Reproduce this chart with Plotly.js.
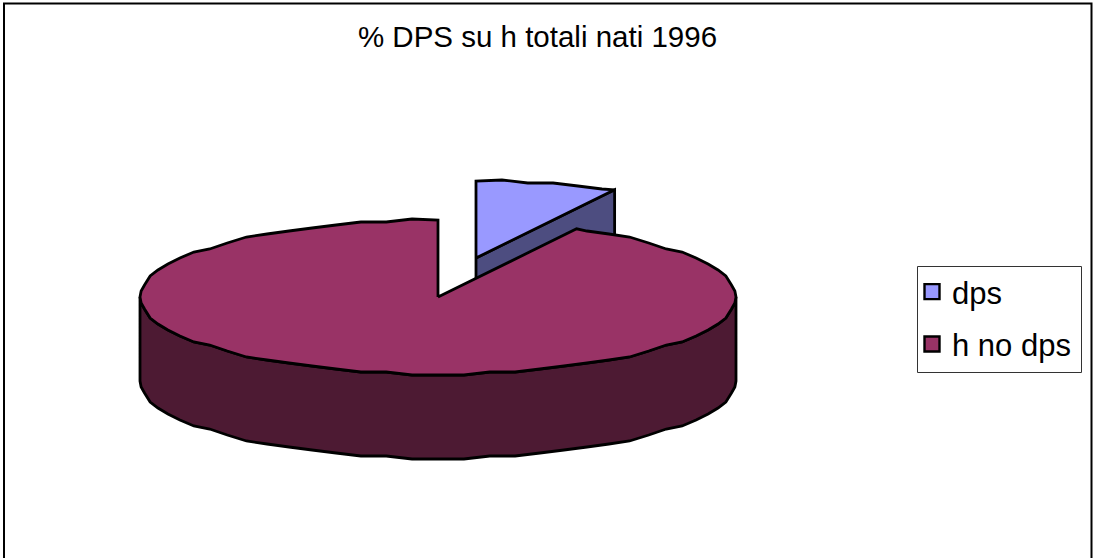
<!DOCTYPE html>
<html>
<head>
<meta charset="utf-8">
<script src="https://cdn.plot.ly/plotly-3.0.1.min.js"></script>
<style>html,body{margin:0;padding:0;background:#fff}#chart{width:1093px;height:558px}</style>
</head>
<body>
<div id="chart"></div>
<script>
const chartTitle = "% DPS su h totali nati 1996";
const categories = ["dps", "h no dps"];
const values = [7.7, 92.3];
const topColors = ["#9999FF", "#993366"];
const sideColors = ["#4D4D80", "#4D1A33"];

const cx = 438, cy = 297, rx = 298, ry = 77, depth = 84;
const explodeX = 38, explodeY = -39;
const stepDeg = 5, gridY = 3;
const total = values.reduce((a, b) => a + b, 0);
const splitDeg = values[0] / total * 360;

function pt(deg, ox, oy, dz) {
  const t = deg * Math.PI / 180;
  return [ox + rx * Math.sin(t), oy - ry * Math.cos(t) + dz];
}
// coarse rim: the points sit on fixed angles and snap vertically, as the original outline does
function arc(from, to, ox, oy, dz) {
  const dir = to > from ? 1 : -1;
  const angles = [from];
  let a = dir > 0 ? (Math.floor(from / stepDeg) + 1) * stepDeg : (Math.ceil(from / stepDeg) - 1) * stepDeg;
  while ((to - a) * dir > 1e-6) { angles.push(a); a += dir * stepDeg; }
  angles.push(to);
  return angles.map((d, i) => {
    const p = pt(d, ox, oy, dz);
    if (i > 0 && i < angles.length - 1) p[1] = oy + dz + Math.round((p[1] - oy - dz) / gridY) * gridY;
    return p;
  });
}
function poly(points, color) {
  const xs = points.map(p => p[0]), ys = points.map(p => p[1]);
  xs.push(xs[0]); ys.push(ys[0]);
  return {
    type: "scatter", mode: "lines", x: xs, y: ys, fill: "toself", fillcolor: color,
    line: {color: "#000", width: 2.8, simplify: false, shape: "linear"},
    hoverinfo: "skip", showlegend: false
  };
}
const sx = cx + explodeX, sy = cy + explodeY;
const endPt = pt(splitDeg, sx, sy, 0);
const traces = [
  poly([[sx, sy], endPt, [endPt[0], endPt[1] + depth], [sx, sy + depth]], sideColors[0]),
  poly([[sx, sy]].concat(arc(0, splitDeg, sx, sy, 0)), topColors[0]),
  poly(arc(90, 270, cx, cy, 0).concat(arc(270, 90, cx, cy, depth)), sideColors[1]),
  poly([[cx, cy]].concat(arc(splitDeg, 360, cx, cy, 0)), topColors[1])
];
categories.forEach((name, i) => {
  traces.push({
    type: "scatter", mode: "markers", name: name, x: [null], y: [null],
    legendgroup: name, hoverinfo: "skip",
    marker: {symbol: "square", size: 15, color: topColors[i], line: {color: "#000", width: 2.4}}
  });
});
const hidden = {visible: false, fixedrange: true};
const fx = v => v / 1093, fy = v => 1 - v / 558;
const layout = {
  width: 1093, height: 558,
  margin: {l: 0, r: 0, t: 0, b: 0},
  paper_bgcolor: "#fff", plot_bgcolor: "#fff",
  font: {family: "Liberation Sans, Arial, sans-serif", color: "#000"},
  title: {text: chartTitle, font: {size: 29.5, color: "#000"}, x: fx(537.5), xanchor: "center",
          y: fy(37), yanchor: "middle"},
  xaxis: Object.assign({range: [0, 1093]}, hidden),
  yaxis: Object.assign({range: [558, 0]}, hidden),
  legend: {x: fx(917), xanchor: "left", y: fy(265), yanchor: "top", indentation: -5,
           bgcolor: "rgba(0,0,0,0)", borderwidth: 0, font: {size: 31, color: "#000"},
           traceorder: "grouped", tracegroupgap: 9},
  shapes: [
    {type: "rect", xref: "paper", yref: "paper", x0: fx(917.5), x1: fx(1081.5),
     y0: fy(266.5), y1: fy(372.5), line: {color: "#333", width: 1}, layer: "below"},
    {type: "path", xref: "paper", yref: "paper",
     path: "M " + fx(4) + " 0 L " + fx(4) + " " + fy(3.5) + " L " + fx(1091.5) + " " + fy(3.5) + " L " + fx(1091.5) + " 0",
     line: {color: "#000", width: 2}, layer: "below"}
  ]
};
Plotly.newPlot("chart", traces, layout, {displayModeBar: false, staticPlot: true});
</script>
</body>
</html>
